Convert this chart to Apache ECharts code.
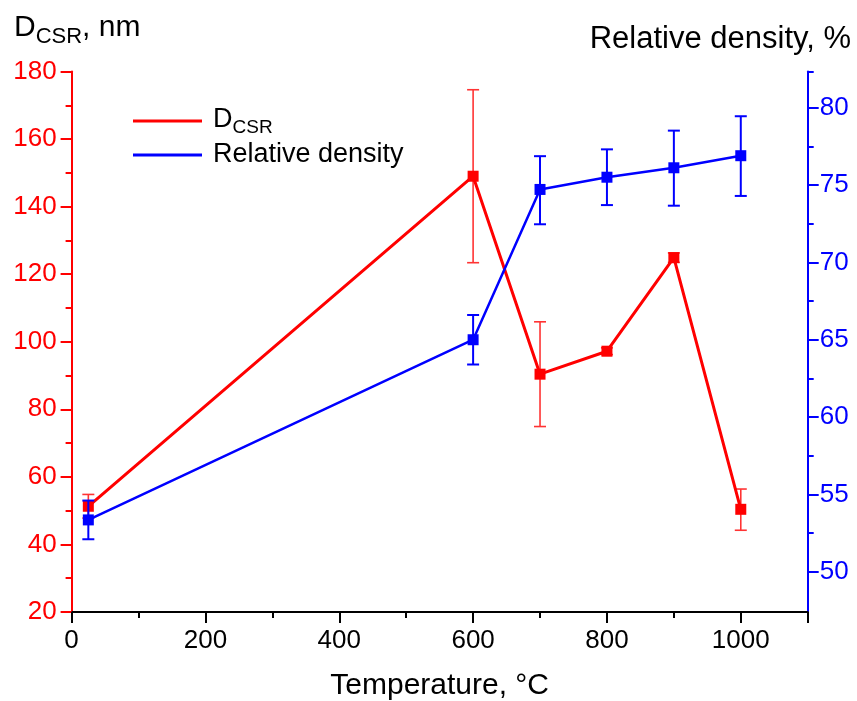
<!DOCTYPE html>
<html>
<head>
<meta charset="utf-8">
<script src="https://cdn.jsdelivr.net/npm/echarts@6/dist/echarts.min.js"></script>
<style>
html,body{margin:0;padding:0;background:#fff;}
#chart{width:857px;height:701px;}
</style>
</head>
<body>
<div id="chart"></div>
<script>
// ---- data ----
const temperatures = [25, 600, 700, 800, 900, 1000];
const dcsr = [51.3, 149.0, 90.4, 97.2, 124.9, 50.4];
const dcsrErrPlus = [3.5, 25.6, 15.5, 1.0, 1.4, 6.0];
const dcsrErrMinus = [3.5, 25.6, 15.5, 1.0, 1.4, 6.2];
const density = [53.36, 65.0, 74.71, 75.50, 76.11, 76.89];
const densityErrPlus = [1.25, 1.6, 2.15, 1.8, 2.4, 2.55];
const densityErrMinus = [1.25, 1.6, 2.25, 1.8, 2.45, 2.6];
const leftTicks = [20, 40, 60, 80, 100, 120, 140, 160, 180];
const rightTicks = [50, 55, 60, 65, 70, 75, 80];
const rightMinorTicks = [52.5, 57.5, 62.5, 67.5, 72.5, 77.5];
const xTicks = [0, 200, 400, 600, 800, 1000];

const RED = '#ff0000';
const BLUE = '#0000ff';
const FONT = 'Liberation Sans, Arial, sans-serif';
const GRID = {left: 71.6, right: 49.3, top: 71.5, bottom: 89};

const chart = echarts.init(document.getElementById('chart'), null, {renderer: 'canvas'});

function errSeries(name, yIdx, color, values, plus, minus, lw, z) {
  return {
    name: name + ' err',
    type: 'custom',
    yAxisIndex: yIdx,
    z: z,
    silent: true,
    data: temperatures.map((t, i) => [t, values[i] - minus[i], values[i] + plus[i]]),
    renderItem: function (params, api) {
      const x = api.value(0);
      const lo = api.coord([x, api.value(1)]);
      const hi = api.coord([x, api.value(2)]);
      const hw = 6;
      const st = {stroke: color, lineWidth: lw};
      return {
        type: 'group',
        children: [
          {type: 'line', shape: {x1: hi[0], y1: hi[1], x2: lo[0], y2: lo[1]}, style: st},
          {type: 'line', shape: {x1: hi[0] - hw, y1: hi[1], x2: hi[0] + hw, y2: hi[1]}, style: st},
          {type: 'line', shape: {x1: lo[0] - hw, y1: lo[1], x2: lo[0] + hw, y2: lo[1]}, style: st}
        ]
      };
    }
  };
}

const plotCenterX = GRID.left + (857 - GRID.left - GRID.right) / 2;

const option = {
  backgroundColor: '#fff',
  animation: false,
  grid: Object.assign({containLabel: false}, GRID),
  legend: {
    left: 133, top: 106.5, orient: 'vertical', padding: 0,
    itemWidth: 69, itemHeight: 3, itemGap: 4,
    icon: 'rect',
    data: [
      {name: 'DCSR', itemStyle: {color: RED}},
      {name: 'Relative density', itemStyle: {color: BLUE}}
    ],
    formatter: function (n) { return n === 'DCSR' ? '{a|D}{b|CSR}' : '{c|' + n + '}'; },
    textStyle: {
      fontFamily: FONT, color: '#000', padding: [0, 0, 0, 6],
      rich: {
        a: {fontFamily: FONT, fontSize: 27, lineHeight: 33, color: '#000', padding: [0, 0, 4, 0], verticalAlign: 'bottom'},
        b: {fontFamily: FONT, fontSize: 19, lineHeight: 22, color: '#000', verticalAlign: 'bottom'},
        c: {fontFamily: FONT, fontSize: 27, lineHeight: 33, color: '#000'}
      }
    }
  },
  xAxis: {
    type: 'value', min: 0, max: 1100, interval: 200,
    axisLine: {show: true, onZero: false, lineStyle: {color: '#000', width: 2}},
    axisTick: {show: true, inside: false, length: 11, lineStyle: {color: '#000', width: 2}},
    minorTick: {show: true, splitNumber: 2, length: 6, lineStyle: {color: '#000', width: 2}},
    splitLine: {show: false},
    axisLabel: {
      fontFamily: FONT, fontSize: 26, color: '#000', margin: 16,
      customValues: xTicks,
      formatter: v => String(v)
    }
  },
  yAxis: [
    {
      type: 'value', min: 20, max: 180, interval: 20, position: 'left',
      axisLine: {show: true, lineStyle: {color: RED, width: 2}},
      axisTick: {show: true, inside: false, length: 11, lineStyle: {color: RED, width: 2}},
      minorTick: {show: true, splitNumber: 2, length: 6, lineStyle: {color: RED, width: 2}},
      splitLine: {show: false},
      axisLabel: {fontFamily: FONT, fontSize: 26, color: RED, margin: 15, customValues: leftTicks}
    },
    {
      type: 'value', min: 47.41, max: 82.33, position: 'right',
      axisLine: {show: true, lineStyle: {color: BLUE, width: 2}},
      axisTick: {show: true, inside: false, length: 11, customValues: rightTicks, lineStyle: {color: BLUE, width: 2}},
      splitLine: {show: false},
      axisLabel: {fontFamily: FONT, fontSize: 26, color: BLUE, margin: 12, customValues: rightTicks}
    },
    {
      type: 'value', min: 47.41, max: 82.33, position: 'right',
      axisLine: {show: false},
      axisTick: {show: true, inside: false, length: 6, customValues: rightMinorTicks.concat([82.33]), lineStyle: {color: BLUE, width: 2}},
      splitLine: {show: false},
      axisLabel: {show: false}
    }
  ],
  graphic: [
    {
      type: 'text', left: 14, top: 13,
      style: {
        text: '{a|D}{b|CSR}{a|, nm}',
        rich: {
          a: {fontFamily: FONT, fontSize: 30, lineHeight: 34, fill: '#000', padding: [0, 0, 5, 0], verticalAlign: 'bottom'},
          b: {fontFamily: FONT, fontSize: 22, lineHeight: 26, fill: '#000', verticalAlign: 'bottom'}
        }
      }
    },
    {
      type: 'text', right: 6, top: 24,
      style: {text: 'Relative density, %', fontFamily: FONT, fontSize: 31, fill: '#000'}
    },
    {
      type: 'text', x: plotCenterX, y: 671,
      style: {text: 'Temperature, °C', fontFamily: FONT, fontSize: 30, fill: '#000', align: 'center', verticalAlign: 'top'}
    }
  ],
  series: [
    errSeries('DCSR', 0, '#ff3333', dcsr, dcsrErrPlus, dcsrErrMinus, 1.6, 2),
    {
      name: 'DCSR', type: 'line', yAxisIndex: 0, z: 3,
      data: temperatures.map((t, i) => [t, dcsr[i]]),
      symbol: 'rect', symbolSize: 11,
      lineStyle: {color: RED, width: 3},
      itemStyle: {color: RED},
      emphasis: {disabled: true}
    },
    errSeries('Relative density', 1, BLUE, density, densityErrPlus, densityErrMinus, 2, 4),
    {
      name: 'Relative density', type: 'line', yAxisIndex: 1, z: 5,
      data: temperatures.map((t, i) => [t, density[i]]),
      symbol: 'rect', symbolSize: 11,
      lineStyle: {color: BLUE, width: 2.5},
      itemStyle: {color: BLUE},
      emphasis: {disabled: true}
    }
  ]
};
chart.setOption(option);
</script>
</body>
</html>
